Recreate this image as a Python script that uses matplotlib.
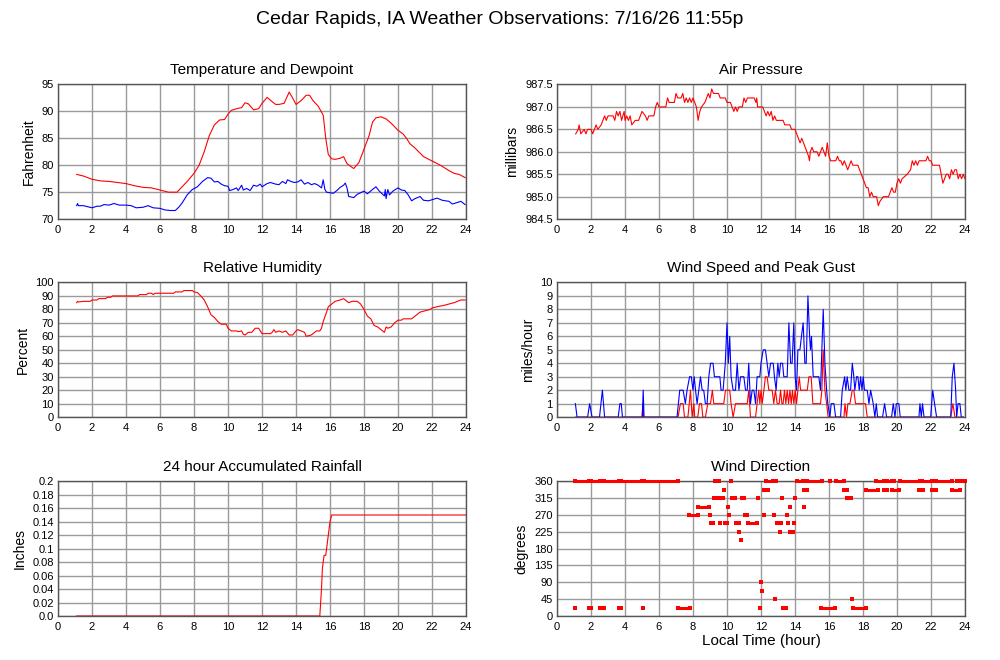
import matplotlib
matplotlib.use('Agg')
import matplotlib.pyplot as plt

plt.rcParams['font.family'] = ['Liberation Sans', 'DejaVu Sans']

# ---- data (hour of day, value) ----
temp_hr = [1.1, 1.5, 2.0, 2.5, 3.0, 3.5, 4.0, 4.5, 5.0, 5.5, 6.0, 6.5, 7.0, 7.3, 7.6,
           8.0, 8.3, 8.6, 8.9, 9.2, 9.5, 9.8, 10.0, 10.2, 10.5, 10.8, 11.0, 11.2, 11.5,
           11.8, 12.0, 12.3, 12.6, 12.8, 13.0, 13.3, 13.6, 13.8, 14.0, 14.3, 14.6, 14.8,
           15.0, 15.3, 15.6, 15.75, 15.9, 16.1, 16.3, 16.6, 16.8, 17.0, 17.3, 17.4, 17.7,
           18.0, 18.3, 18.5, 18.7, 19.0, 19.3, 19.6, 20.0, 20.3, 20.5, 20.7, 21.0, 21.5,
           22.0, 22.5, 23.0, 23.3, 23.6, 23.95]
temp_f = [78.3, 78.0, 77.4, 77.1, 77.0, 76.8, 76.6, 76.2, 75.9, 75.8, 75.4, 75.0, 75.0, 76.0, 77.0,
          78.5, 80.0, 82.5, 85.5, 87.5, 88.4, 88.5, 89.5, 90.2, 90.5, 90.7, 91.6, 91.4, 90.3,
          90.5, 91.5, 92.6, 91.8, 91.3, 91.3, 91.5, 93.6, 92.5, 91.3, 92.0, 93.0, 93.0,
          92.0, 91.0, 89.3, 85.0, 82.0, 81.2, 81.1, 81.3, 81.6, 80.3, 79.6, 79.4, 80.5,
          83.0, 85.5, 88.0, 88.8, 89.0, 88.6, 87.8, 86.5, 85.8, 85.0, 84.0, 83.2, 81.6,
          80.8, 80.0, 79.0, 78.5, 78.3, 77.7]

dew_hr = [1.1, 1.15, 1.2, 1.5, 2.0, 2.3, 2.5, 2.7, 3.0, 3.3, 3.6, 4.0, 4.3, 4.6, 5.0, 5.3,
          5.6, 6.0, 6.3, 6.6, 6.9, 7.1, 7.3, 7.6, 7.9, 8.2, 8.5, 8.8, 9.0, 9.2, 9.4, 9.6,
          9.8, 10.0, 10.1, 10.3, 10.5, 10.6, 10.8, 10.9, 11.1, 11.3, 11.5, 11.7, 11.9, 12.0,
          12.3, 12.5, 12.8, 13.0, 13.2, 13.4, 13.5, 13.7, 13.9, 14.1, 14.3, 14.5, 14.7, 14.9,
          15.1, 15.3, 15.5, 15.6, 15.7, 15.8, 16.0, 16.2, 16.4, 16.6, 16.8, 16.9, 17.0, 17.1,
          17.4, 17.6, 17.8, 18.0, 18.2, 18.5, 18.7, 18.9, 19.0, 19.2, 19.25, 19.3, 19.4, 19.5,
          19.7, 20.0, 20.2, 20.4, 20.6, 20.8, 21.0, 21.3, 21.5, 21.8, 22.0, 22.3, 22.6, 23.0,
          23.2, 23.5, 23.7, 23.95]
dew_f = [72.5, 72.9, 72.5, 72.5, 72.1, 72.4, 72.4, 72.7, 72.6, 72.9, 72.6, 72.6, 72.5, 72.1, 72.2, 72.5,
         72.1, 72.0, 71.7, 71.6, 71.6, 72.2, 73.0, 74.5, 75.5, 76.0, 77.0, 77.7, 77.6, 76.9, 77.0, 76.5,
         76.2, 76.1, 75.3, 75.5, 75.8, 75.3, 76.3, 75.4, 75.7, 75.3, 76.3, 76.1, 76.5, 76.0,
         76.6, 76.8, 76.5, 76.4, 77.0, 76.6, 77.3, 77.0, 76.8, 76.9, 77.3, 76.5, 76.8, 76.4,
         76.6, 76.3, 75.8, 77.3, 75.5, 75.0, 74.9, 74.8, 75.3, 75.9, 76.3, 76.7, 75.8, 74.2,
         74.0, 74.6, 74.9, 75.2, 74.7, 75.5, 76.0, 75.2, 74.9, 74.3, 75.5, 73.8, 75.5, 74.5,
         75.2, 75.8, 75.4, 75.3, 74.5, 73.4, 73.8, 74.2, 73.5, 73.4, 73.6, 73.9, 73.5, 73.3,
         72.8, 73.1, 73.3, 72.7]

pres_hr = [1.1, 1.25, 1.3, 1.4, 1.6, 1.7, 1.8, 2.0, 2.1, 2.3, 2.4, 2.6, 2.8, 2.9, 3.0, 3.3,
           3.4, 3.5, 3.6, 3.7, 3.8, 3.95, 4.0, 4.1, 4.2, 4.3, 4.4, 4.6, 4.8, 4.9, 5.0, 5.2,
           5.3, 5.4, 5.7, 5.8, 5.9, 6.0, 6.4, 6.5, 6.6, 6.9, 7.0, 7.1, 7.3, 7.4, 7.5, 7.6,
           7.7, 7.8, 7.9, 8.0, 8.1, 8.2, 8.3, 8.4, 8.5, 8.7, 8.8, 8.9, 9.0, 9.1, 9.2, 9.5,
           9.6, 9.9, 10.0, 10.2, 10.3, 10.4, 10.5, 10.6, 10.7, 10.9, 11.0, 11.1, 11.2, 11.6,
           11.7, 11.75, 11.8, 12.1, 12.2, 12.3, 12.4, 12.5, 12.6, 12.7, 12.8, 12.9, 13.3, 13.4,
           13.7, 13.8, 14.0, 14.1, 14.2, 14.3, 14.4, 14.5, 14.6, 14.7, 14.8, 14.85, 14.9, 15.0,
           15.1, 15.3, 15.4, 15.5, 15.6, 15.7, 15.8, 15.9, 16.0, 16.1, 16.4, 16.5, 16.6, 16.7,
           16.8, 16.9, 17.0, 17.1, 17.2, 17.3, 17.4, 17.7, 17.8, 17.9, 18.0, 18.1, 18.2, 18.3,
           18.4, 18.5, 18.6, 18.8, 18.9, 19.0, 19.2, 19.5, 19.7, 19.8, 19.9, 20.0, 20.1, 20.2,
           20.3, 20.6, 20.8, 20.9, 21.0, 21.1, 21.2, 21.3, 21.7, 21.8, 21.9, 22.0, 22.1, 22.5,
           22.6, 22.7, 22.8, 22.9, 23.0, 23.1, 23.2, 23.3, 23.4, 23.5, 23.6, 23.7, 23.8, 23.9,
           24.0]
pres_mb = [986.4, 986.5, 986.6, 986.4, 986.5, 986.4, 986.5, 986.5, 986.4, 986.6, 986.5, 986.6, 986.8, 986.7, 986.8, 986.8,
           986.7, 986.9, 986.8, 986.9, 986.7, 986.9, 986.7, 986.8, 986.7, 986.8, 986.6, 986.7, 986.7, 986.8, 986.9, 986.8,
           986.7, 986.8, 986.8, 987.0, 987.1, 987.0, 987.0, 987.2, 987.1, 987.1, 987.3, 987.2, 987.2, 987.3, 987.1, 987.2,
           987.1, 987.2, 987.1, 987.2, 987.1, 987.0, 986.7, 986.9, 987.0, 987.1, 987.2, 987.3, 987.2, 987.4, 987.3, 987.3,
           987.2, 987.2, 987.1, 987.1, 987.0, 986.9, 987.0, 986.9, 987.0, 987.0, 987.2, 987.1, 987.2, 987.2,
           987.1, 987.2, 987.0, 987.0, 986.9, 986.8, 986.9, 986.8, 986.9, 986.7, 986.8, 986.7, 986.7, 986.6,
           986.6, 986.5, 986.5, 986.4, 986.3, 986.2, 986.3, 986.2, 986.1, 986.0, 985.9, 985.8, 986.0, 986.1,
           986.0, 986.0, 985.9, 986.0, 986.1, 986.0, 985.9, 986.2, 985.9, 985.8, 985.8, 985.9, 985.8, 985.8,
           985.7, 985.8, 985.7, 985.6, 985.7, 985.8, 985.7, 985.7, 985.6, 985.5, 985.4, 985.3, 985.2, 985.2,
           985.0, 985.1, 985.0, 985.0, 984.8, 984.9, 985.0, 985.0, 985.2, 985.1, 985.1, 985.3, 985.4, 985.3,
           985.4, 985.5, 985.6, 985.8, 985.7, 985.8, 985.7, 985.8, 985.8, 985.9, 985.8, 985.8, 985.7, 985.7,
           985.5, 985.3, 985.4, 985.5, 985.5, 985.4, 985.6, 985.5, 985.6, 985.6, 985.4, 985.5, 985.4, 985.5,
           985.4]

rh_hr = [1.1, 1.15, 1.2, 1.5, 1.9, 2.0, 2.3, 2.4, 2.8, 2.9, 3.1, 3.2, 4.7, 4.8, 5.2, 5.3,
         5.5, 5.6, 5.7, 6.8, 6.9, 7.3, 7.4, 7.9, 8.0, 8.2, 8.4, 8.6, 8.8, 9.0, 9.2, 9.4,
         9.6, 9.9, 10.0, 10.2, 10.5, 10.6, 10.8, 10.9, 11.0, 11.2, 11.4, 11.6, 11.8, 11.9,
         12.0, 12.5, 12.6, 12.7, 12.8, 13.0, 13.2, 13.4, 13.6, 13.8, 14.0, 14.1, 14.3, 14.5,
         14.6, 14.9, 15.0, 15.2, 15.4, 15.5, 15.6, 15.8, 15.9, 16.1, 16.3, 16.6, 16.8, 17.0,
         17.1, 17.3, 17.6, 17.8, 18.0, 18.2, 18.4, 18.6, 18.8, 19.0, 19.2, 19.3, 19.4, 19.6,
         19.8, 20.0, 20.2, 20.3, 20.5, 20.8, 21.0, 21.3, 21.6, 21.9, 22.0, 22.3, 22.7, 23.0,
         23.3, 23.5, 23.7, 23.95]
rh_pct = [85, 86, 85.5, 86, 86, 87, 87, 88, 88, 89, 89, 90, 90, 91, 91, 92,
          92, 91, 92, 92, 93, 93, 94, 94, 93, 92.5, 90, 87, 82, 76, 74, 71,
          69, 69, 66, 64, 64, 63.5, 64, 61.5, 61, 63, 63, 66, 66, 64,
          62, 62, 63, 65, 63, 64, 63, 64, 61, 61, 64, 65, 64, 63,
          60, 61, 62, 64, 64, 66, 71, 78, 82, 84, 86, 87, 88, 86,
          85, 86, 86, 84, 80, 75, 73, 68, 67, 65, 63, 67, 66, 67,
          70, 72, 72, 73, 73, 73, 75, 78, 79, 80, 81, 82, 83, 84,
          85, 86, 87, 87]

gust_hr = [1.08, 1.18, 1.8, 1.92, 2.06, 2.5, 2.67, 2.8, 3.6, 3.7, 3.78, 3.85, 5.02, 5.07, 5.12,
           7.06, 7.22, 7.42, 7.55, 7.65, 7.8, 7.9, 8.0, 8.07, 8.15, 8.24, 8.34, 8.44, 8.54, 8.63,
           8.73, 8.83, 8.93, 9.03, 9.18, 9.26, 9.58, 9.65, 9.77, 9.9, 10.0, 10.08, 10.16, 10.24,
           10.36, 10.5, 10.6, 10.7, 10.8, 10.99, 11.09, 11.19, 11.28, 11.38, 11.48, 11.58, 11.68,
           11.77, 11.93, 12.0, 12.13, 12.26, 12.36, 12.46, 12.56, 12.72, 12.79, 12.89, 12.99,
           13.07, 13.15, 13.27, 13.34, 13.54, 13.64, 13.74, 13.83, 13.93, 14.01, 14.09, 14.17,
           14.29, 14.38, 14.48, 14.58, 14.66, 14.76, 14.86, 14.91, 14.97, 15.07, 15.4, 15.5,
           15.66, 15.76, 15.86, 15.93, 16.05, 16.13, 16.29, 16.39, 16.68, 16.78, 16.92, 16.99,
           17.07, 17.17, 17.27, 17.37, 17.46, 17.52, 17.62, 17.7, 17.78, 17.86, 17.94, 18.01,
           18.09, 18.25, 18.35, 18.45, 18.6, 18.7, 18.78, 18.86, 19.15, 19.27, 19.39, 19.68,
           19.78, 19.88, 19.96, 20.11, 20.19, 21.29, 21.35, 21.43, 21.5, 21.59, 21.98, 22.1,
           22.21, 22.33, 23.16, 23.25, 23.35, 23.45, 23.51, 23.59, 23.7, 23.78, 23.9]
gust_mph = [1, 0, 0, 1, 0, 0, 2, 0, 0, 1, 1, 0, 0, 2, 0,
            0, 2, 2, 1, 2, 3, 3, 2, 3, 2, 1, 2, 3, 2, 2,
            1, 1, 3, 4, 4, 3, 3, 2, 2, 4, 7, 4, 6, 3,
            2, 2, 4, 2, 3, 3, 2, 2, 4, 1, 2, 2, 1,
            3, 3, 4, 5, 5, 4, 3, 4, 4, 3, 2, 4,
            3, 4, 4, 3, 3, 7, 4, 4, 7, 3, 2, 5,
            5, 6, 7, 4, 4, 9, 6, 5, 6, 3, 3, 2,
            8, 4, 2, 1, 0, 1, 1, 0, 0, 2, 3, 2,
            3, 2, 2, 4, 3, 2, 3, 3, 2, 3, 2, 3,
            2, 2, 1, 2, 1, 0, 1, 0, 0, 1, 0, 0,
            1, 0, 1, 1, 0, 0, 1, 0, 1, 0, 0, 2,
            1, 0, 0, 3, 4, 2, 0, 1, 1, 0, 0]

wind_hr = [1.08, 5.0, 5.05, 5.1, 7.12, 7.26, 7.42, 7.5, 7.7, 7.78, 7.85, 7.95, 8.05, 8.1, 8.28,
           8.38, 8.5, 8.58, 8.73, 8.87, 9.03, 9.14, 9.22, 9.81, 9.91, 10.16, 10.24, 10.36, 10.5,
           11.19, 11.28, 11.38, 11.68, 11.77, 11.87, 11.93, 12.0, 12.07, 12.17, 12.26, 12.36,
           12.46, 12.66, 12.75, 12.85, 12.95, 13.07, 13.15, 13.23, 13.3, 13.38, 13.46, 13.54,
           13.62, 13.7, 13.78, 13.85, 13.93, 14.01, 14.09, 14.17, 14.25, 14.33, 14.72, 14.82,
           14.95, 15.05, 15.5, 15.58, 15.66, 15.76, 15.86, 15.95, 16.88, 16.94, 17.03, 17.11,
           17.23, 17.37, 17.46, 17.56, 18.15, 18.25, 23.16, 23.29, 23.41, 23.9]
wind_mph = [0, 0, 1, 0, 0, 1, 1, 0, 0, 1, 2, 0, 1, 0, 0,
            1, 1, 0, 0, 1, 1, 2, 1, 1, 2, 2, 1, 0, 1,
            1, 2, 0, 0, 1, 2, 1, 2, 1, 2, 3, 3,
            2, 2, 1, 2, 1, 1, 2, 1, 1, 2, 1, 2,
            1, 2, 1, 2, 1, 2, 1, 2, 3, 2, 2, 3,
            3, 1, 1, 2, 5, 2, 1, 0, 0, 1, 0, 1,
            1, 2, 2, 1, 1, 0, 0, 1, 0, 0]

rain_hr = [1.1, 15.4, 15.5, 15.55, 15.65, 15.75, 15.8, 15.9, 16.0, 16.1, 24.0]
rain_in = [0, 0, 0.04, 0.07, 0.09, 0.09, 0.10, 0.12, 0.14, 0.15, 0.15]

# wind direction: runs of consecutive 5-minute reports at one compass point
wdir_deg = [360] * 21 + [337.5] * 10 + [315] * 9 + [292.5] * 4 + [270] * 7 + \
           [247.5] * 8 + [225] * 3 + [202.5, 90, 67.5, 45, 45] + [22.5] * 10
wdir_start = [1.08, 2.0, 2.77, 3.78, 5.12, 9.27, 10.22, 12.3, 12.91, 14.09, 14.7, 16.08, 16.43,
              18.74, 19.4, 19.85, 20.18, 21.45, 22.3, 23.55, 23.75,
              9.8, 12.18, 14.52, 16.88, 18.15, 19.26, 19.73, 21.3, 22.08, 23.22,
              9.22, 9.42, 9.65, 10.3, 10.9, 11.83, 13.25, 13.99, 17.08,
              8.28, 10.06, 13.7, 14.52,
              7.78, 9.0, 10.14, 11.05, 12.16, 12.75, 13.5,
              9.04, 9.57, 9.9, 10.55, 11.22, 12.95, 13.58, 13.93,
              10.73, 13.09, 13.7,
              10.81, 12.0, 12.08, 12.84, 17.34,
              1.06, 1.9, 2.54, 3.62, 5.05, 7.12, 11.93, 13.3, 15.55, 17.41]
wdir_end = [1.88, 2.52, 3.62, 5.0, 7.1, 9.5, 10.22, 12.72, 12.91, 14.48, 15.58, 16.08, 16.88,
            19.22, 19.72, 19.85, 21.35, 22.08, 23.26, 23.55, 24.0,
            9.8, 12.44, 14.7, 17.06, 18.88, 19.4, 20.1, 21.55, 22.32, 23.72,
            9.3, 9.42, 9.75, 10.48, 11.0, 11.83, 13.25, 13.99, 17.3,
            8.92, 10.06, 13.7, 14.52,
            8.28, 9.0, 10.14, 11.2, 12.16, 12.75, 13.5,
            9.15, 9.57, 10.0, 10.68, 11.76, 13.18, 13.58, 13.93,
            10.73, 13.09, 13.86,
            10.81, 12.0, 12.08, 12.84, 17.34,
            1.06, 2.0, 2.74, 3.74, 5.05, 7.8, 11.93, 13.46, 16.38, 18.15]

hour_ticks = list(range(0, 25, 2))

fig = plt.figure(figsize=(10, 6.6), dpi=100)
fig.suptitle("Cedar Rapids, IA Weather Observations: 7/16/26 11:55p", fontsize=14, y=0.97, va='center')

cols = [0.058, 0.557]
rows = [0.668, 0.368, 0.0667]
w, h = 0.408, 0.204


def make_ax(c, r, title, ylabel, yticks, ylabels=None):
    ax = fig.add_axes([cols[c], rows[r], w, h])
    ax.set_xlim(0, 24)
    ax.set_ylim(yticks[0], yticks[-1])
    ax.set_xticks(hour_ticks)
    ax.set_yticks(yticks)
    if ylabels is not None:
        ax.set_yticklabels(ylabels)
    ax.grid(True, color='#9a9a9a', linewidth=1.0)
    ax.set_axisbelow(True)
    ax.tick_params(length=0, labelsize=8, pad=4)
    ax.tick_params(axis='y', pad=3)
    for s in ax.spines.values():
        s.set_color('#555555')
        s.set_linewidth(1.0)
    ax.set_title(title, fontsize=11, pad=7.5)
    ax.set_ylabel(ylabel, fontsize=10, labelpad=4)
    return ax


ax = make_ax(0, 0, "Temperature and Dewpoint", "Fahrenheit", [70, 75, 80, 85, 90, 95])
ax.plot(temp_hr, temp_f, color='#ff0000', lw=0.8)
ax.plot(dew_hr, dew_f, color='#0000ff', lw=0.8)

ax = make_ax(1, 0, "Air Pressure", "millibars",
             [984.5, 985.0, 985.5, 986.0, 986.5, 987.0, 987.5],
             ["984.5", "985.0", "985.5", "986.0", "986.5", "987.0", "987.5"])
ax.plot(pres_hr, pres_mb, color='#ff0000', lw=0.8)

ax = make_ax(0, 1, "Relative Humidity", "Percent", list(range(0, 101, 10)))
ax.plot(rh_hr, rh_pct, color='#ff0000', lw=0.8)

ax = make_ax(1, 1, "Wind Speed and Peak Gust", "miles/hour", list(range(0, 11)))
ax.plot(wind_hr, wind_mph, color='#ff0000', lw=0.8)
ax.plot(gust_hr, gust_mph, color='#0000ff', lw=0.8)

rain_ticks = [0, 0.02, 0.04, 0.06, 0.08, 0.1, 0.12, 0.14, 0.16, 0.18, 0.2]
ax = make_ax(0, 2, "24 hour Accumulated Rainfall", "Inches", rain_ticks,
             ["0.0", "0.02", "0.04", "0.06", "0.08", "0.1", "0.12", "0.14", "0.16", "0.18", "0.2"])
ax.plot(rain_hr, rain_in, color='#ff0000', lw=0.8)

ax = make_ax(1, 2, "Wind Direction", "degrees", list(range(0, 361, 45)))
ax.hlines(wdir_deg, wdir_start, wdir_end, color='#ff0000', lw=2.2, clip_on=False, zorder=3)
ax.plot(wdir_start + wdir_end, wdir_deg + wdir_deg, 's', color='#ff0000', ms=2.2, mew=0,
        clip_on=False, zorder=3)
ax.set_xlabel("Local Time (hour)", fontsize=11, labelpad=2)

fig.savefig('out.png', dpi=100)
